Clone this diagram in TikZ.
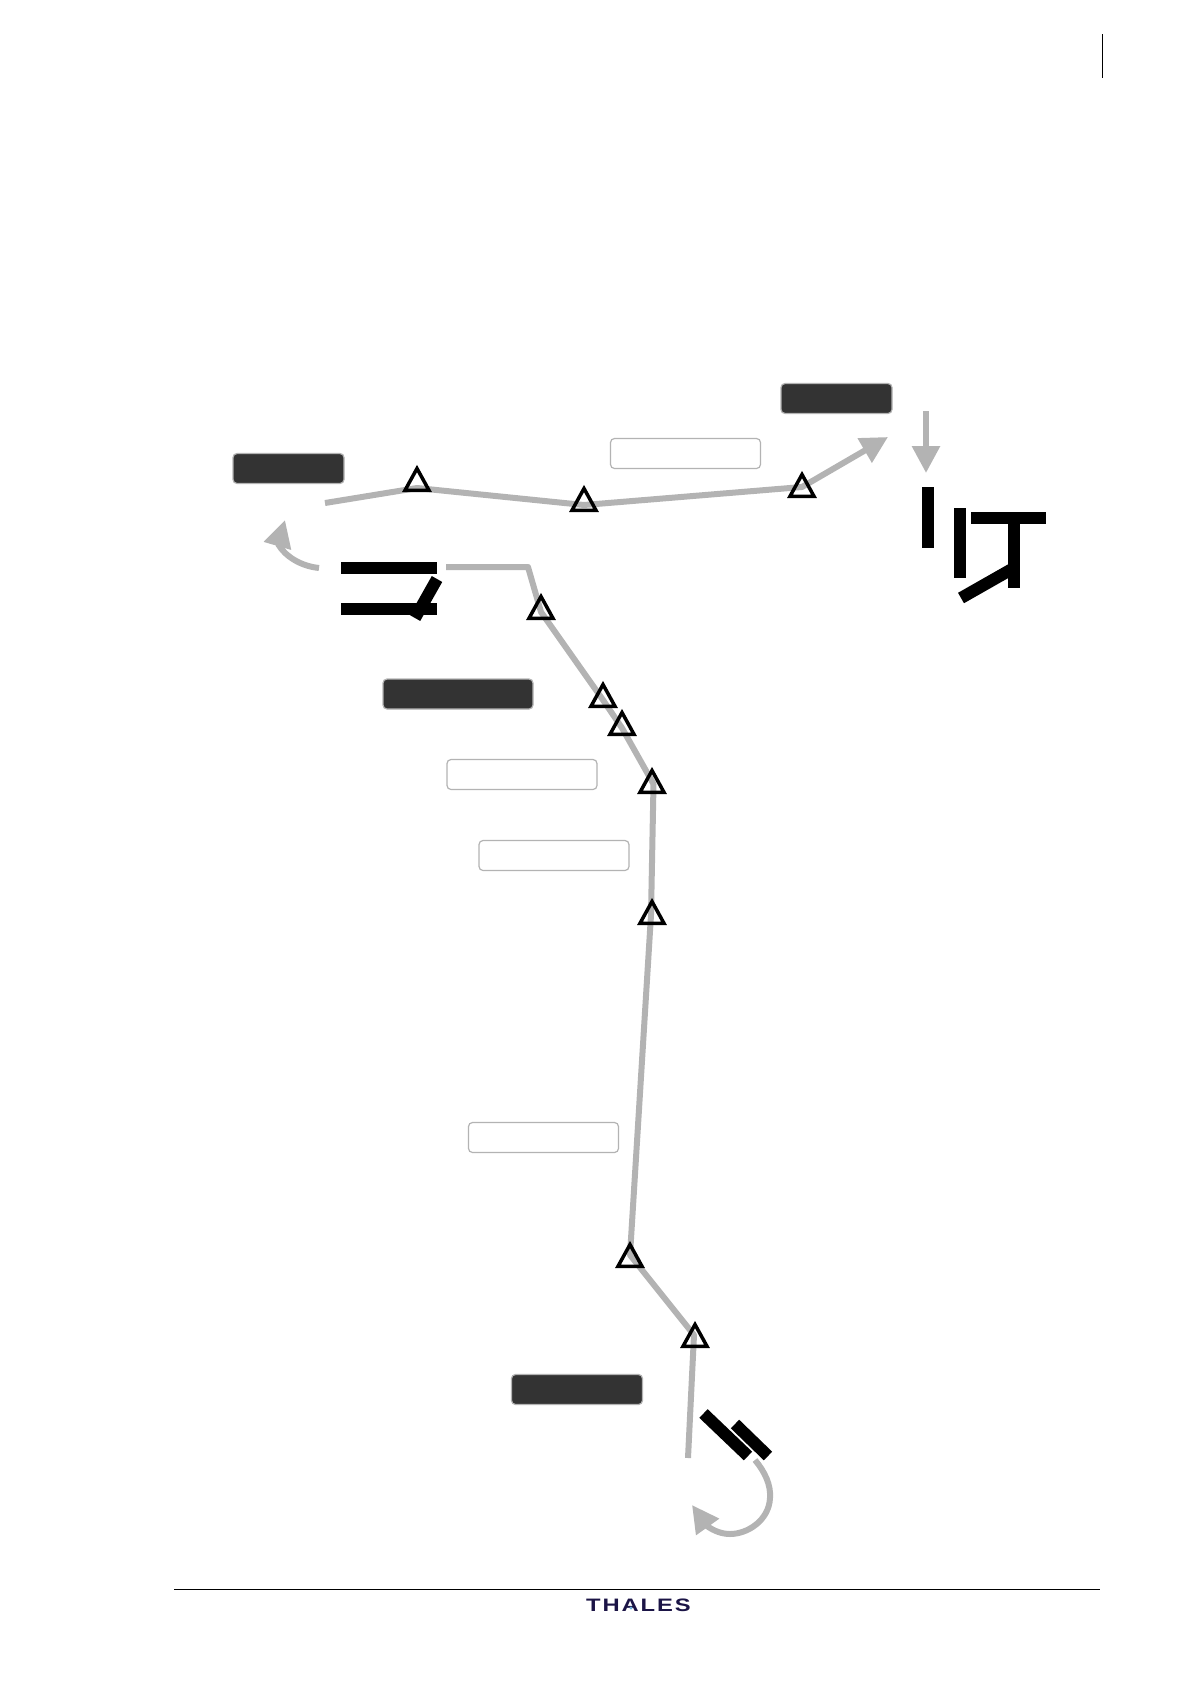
\documentclass[tikz,border=0pt]{standalone}
\usepackage{fontspec}
\setmainfont{Liberation Sans}
\usetikzlibrary{arrows.meta, positioning}
\definecolor{routegray}{HTML}{B3B3B3}
\definecolor{boxdark}{HTML}{333333}
\definecolor{logonavy}{HTML}{1B1446}
\definecolor{logoblue}{HTML}{6FB1DC}
\tikzset{
  route/.style={draw=routegray, line width=6pt, line join=round},
  routetip/.style={route, -{Triangle[length=27pt,width=27pt,fill=routegray]}},
  runway/.style={line width=12pt},
  beacon/.style={draw=black, line width=3.5pt, line join=miter},
  darkbox/.style={draw=routegray, fill=boxdark, line width=1.2pt, rounded corners=4pt, minimum height=30pt, inner sep=0pt},
  emptybox/.style={draw=routegray, fill=white, line width=1.2pt, rounded corners=4pt, minimum width=150pt, minimum height=30pt, inner sep=0pt}
}
\begin{document}
\begin{tikzpicture}[x=1pt,y=-1pt]
\useasboundingbox (0,0) rectangle (1190,1684);
% page furniture
\draw[line width=1pt] (1102,34) -- (1102,78);
\draw[line width=1pt] (174,1589.5) -- (1100,1589.5);
\node[inner sep=0pt, xscale=1.32, text=logonavy] (logo) at (638.5,1605.5) {\fontsize{18}{20}\bfseries\addfontfeature{LetterSpace=8}\selectfont THALES};
\fill[logoblue] (631,1608) circle (1.6pt);
% labels
\node[darkbox, minimum width=111pt] (boxne) at (836.5,398.5) {};
\node[darkbox, minimum width=111pt] (boxnw) at (288.5,468.5) {};
\node[darkbox, minimum width=150pt] (boxmid) at (458,694) {};
\node[darkbox, minimum width=131pt] (boxsouth) at (577,1389.5) {};
\node[emptybox] (lblnorth) at (685.5,453.5) {};
\node[emptybox] (lblone) at (522,774.5) {};
\node[emptybox] (lbltwo) at (554,855.5) {};
\node[emptybox] (lblthree) at (543.5,1137.5) {};
% waypoints
\coordinate (wa) at (417,488);
\coordinate (wb) at (584,505);
\coordinate (wc) at (802,487);
\coordinate (wd) at (541,612);
\coordinate (we) at (603,700);
\coordinate (wf) at (622,728);
\coordinate (wg) at (653.5,784);
\coordinate (wh) at (651,915);
\coordinate (wi) at (630,1255);
\coordinate (wj) at (694,1335);
% routes
\draw[routetip] (325,503) -- (wa) -- (wb) -- (wc) -- (888,437);
\coordinate (tipa) at (926,473);
\draw[routetip] (926,411) -- (tipa);
\draw[route] (446,567) -- (528,567) -- (wd) -- (we) -- (wf) -- (wg) -- (wh) -- (wi) -- (wj) -- (688,1458);
\draw[routetip] (319,568) .. controls (300,566) and (285,556) .. (278,544) -- (285,520);
\draw[routetip] (755,1460) .. controls (765,1472) and (771,1485) .. (770,1498) .. controls (769,1520) and (748,1534) .. (730,1534) .. controls (722,1534) and (714,1531) .. (707,1526) -- (692,1505);
% runways
\draw[runway] (928,487) -- (928,548);
\draw[runway] (960,508) -- (960,578);
\draw[runway] (971,518) -- (1046,518);
\draw[runway] (1014,524) -- (1014,588);
\draw[runway] (961,598) -- (1012,569);
\draw[runway] (341,568) -- (437,568);
\draw[runway] (341,609) -- (437,609);
\draw[runway] (437,579) -- (415,618);
\draw[runway] (703.5,1413.5) -- (748,1456);
\draw[runway] (735,1424) -- (768,1456);
% triangles
\foreach \tx/\ty in {417/467, 584/487, 802/473, 541/595, 603/683, 622/711, 652/769, 652/900, 630/1243, 695/1323}{
  \draw[beacon] (\tx,\ty+1.5) -- ++(-12,21.8) -- ++(24,0) -- cycle;
}
\end{tikzpicture}
\end{document}
